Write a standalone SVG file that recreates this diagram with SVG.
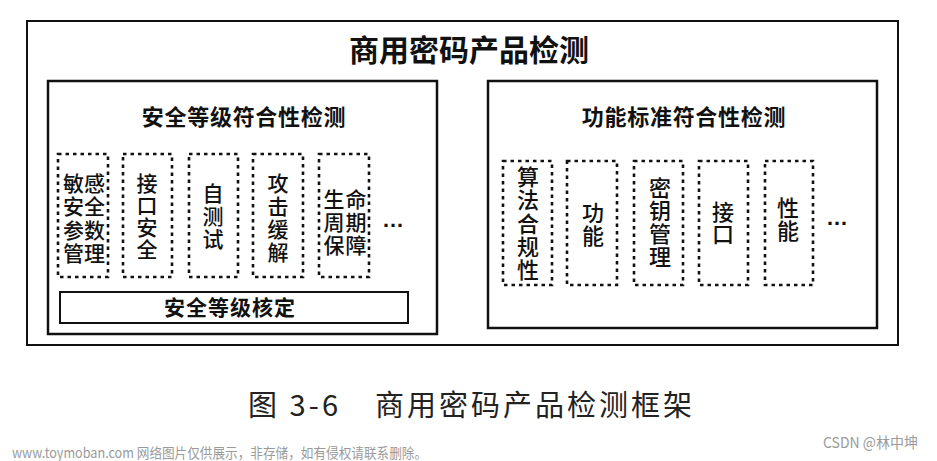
<svg xmlns="http://www.w3.org/2000/svg" width="937" height="461" viewBox="0 0 937 461">
<style>
.frame{fill:none;stroke:#111;stroke-width:2}
.inner{fill:none;stroke:#111;stroke-width:2.5}
.dot{fill:none;stroke:#111;stroke-width:2.6;stroke-dasharray:3.5 4}
.t{font-family:"Noto Sans CJK SC","Noto Sans CJK TC",sans-serif;fill:#111;text-anchor:middle}
.b{font-weight:bold}
.v{font-family:"Noto Sans CJK SC","Noto Sans CJK TC",sans-serif;fill:#111;font-size:21px;font-weight:500;writing-mode:vertical-rl;text-anchor:start}
.v22{font-size:22px}
.ell{font-family:"Liberation Sans",sans-serif;font-weight:bold;font-size:22px;fill:#111}
.cap{font-family:"Noto Sans CJK SC",sans-serif;font-size:29px;fill:#222}
.wm{font-family:"Noto Sans CJK SC",sans-serif;fill:#9a9a9a}
</style>
<rect width="937" height="461" fill="#fff"/>
<g id="outer">
<rect class="frame" x="27" y="21" width="871" height="324"/>
<text class="t b" x="469" y="61" font-size="30">商用密码产品检测</text>
</g>
<g id="security">
<rect class="inner" x="48" y="81" width="389" height="253"/>
<text class="t b" x="244" y="125" font-size="22" letter-spacing="0.7">安全等级符合性检测</text>
</g>
<g id="s1">
<rect class="dot" x="58" y="154" width="50" height="123"/>
<text class="v" x="73.5" y="172.5" letter-spacing="2.5">敏安参管</text>
<text class="v" x="94.5" y="172.5" letter-spacing="2.5">感全数理</text>
</g>
<g id="s2">
<rect class="dot" x="123" y="154" width="49" height="123"/>
<text class="v" x="147" y="173" letter-spacing="1">接口安全</text>
</g>
<g id="s3">
<rect class="dot" x="189" y="154" width="49" height="123"/>
<text class="v" x="213" y="182.5" letter-spacing="2">自测试</text>
</g>
<g id="s4">
<rect class="dot" x="253" y="154" width="50" height="123"/>
<text class="v" x="278" y="172.5" letter-spacing="2">攻击缓解</text>
</g>
<g id="s5">
<rect class="dot" x="319" y="154" width="50" height="123"/>
<text class="v" x="334" y="188.5" letter-spacing="2">生周保</text>
<text class="v" x="356" y="188.5" letter-spacing="2">命期障</text>
</g>
<g id="s-more"><text class="ell" x="382" y="227">…</text></g>
<g id="s-level">
<rect class="frame" x="60" y="292" width="348" height="31"/>
<text class="t b" x="230" y="315" font-size="21" letter-spacing="1">安全等级核定</text>
</g>
<g id="function">
<rect class="inner" x="488" y="81" width="389" height="247"/>
<text class="t b" x="684" y="125" font-size="22" letter-spacing="0.7">功能标准符合性检测</text>
</g>
<g id="f1">
<rect class="dot" x="503" y="161" width="49" height="124"/>
<text class="v v22" x="528" y="165.5" letter-spacing="1.4">算法合规性</text>
</g>
<g id="f2">
<rect class="dot" x="567" y="161" width="50" height="124"/>
<text class="v v22" x="593" y="202" letter-spacing="1">功能</text>
</g>
<g id="f3">
<rect class="dot" x="634" y="161" width="49" height="124"/>
<text class="v v22" x="660" y="177" letter-spacing="1">密钥管理</text>
</g>
<g id="f4">
<rect class="dot" x="699" y="161" width="49" height="124"/>
<text class="v v22" x="723" y="201" letter-spacing="0">接口</text>
</g>
<g id="f5">
<rect class="dot" x="765" y="161" width="48" height="124"/>
<text class="v v22" x="788" y="197" letter-spacing="1">性能</text>
</g>
<g id="f-more"><text class="ell" x="826" y="225">…</text></g>
<g id="connectors"></g>
<g id="caption">
<text class="cap" x="248" y="416" textLength="90" lengthAdjust="spacing">图 3-6</text>
<text class="cap" x="375" y="416" textLength="317" lengthAdjust="spacing">商用密码产品检测框架</text>
</g>
<g id="watermark">
<text class="wm" x="12" y="458" font-size="14" textLength="415" lengthAdjust="spacingAndGlyphs">www.toymoban.com 网络图片仅供展示，非存储，如有侵权请联系删除。</text>
<text class="wm" x="823" y="448" font-size="15" textLength="95" lengthAdjust="spacingAndGlyphs">CSDN @林中坤</text>
</g>
</svg>
